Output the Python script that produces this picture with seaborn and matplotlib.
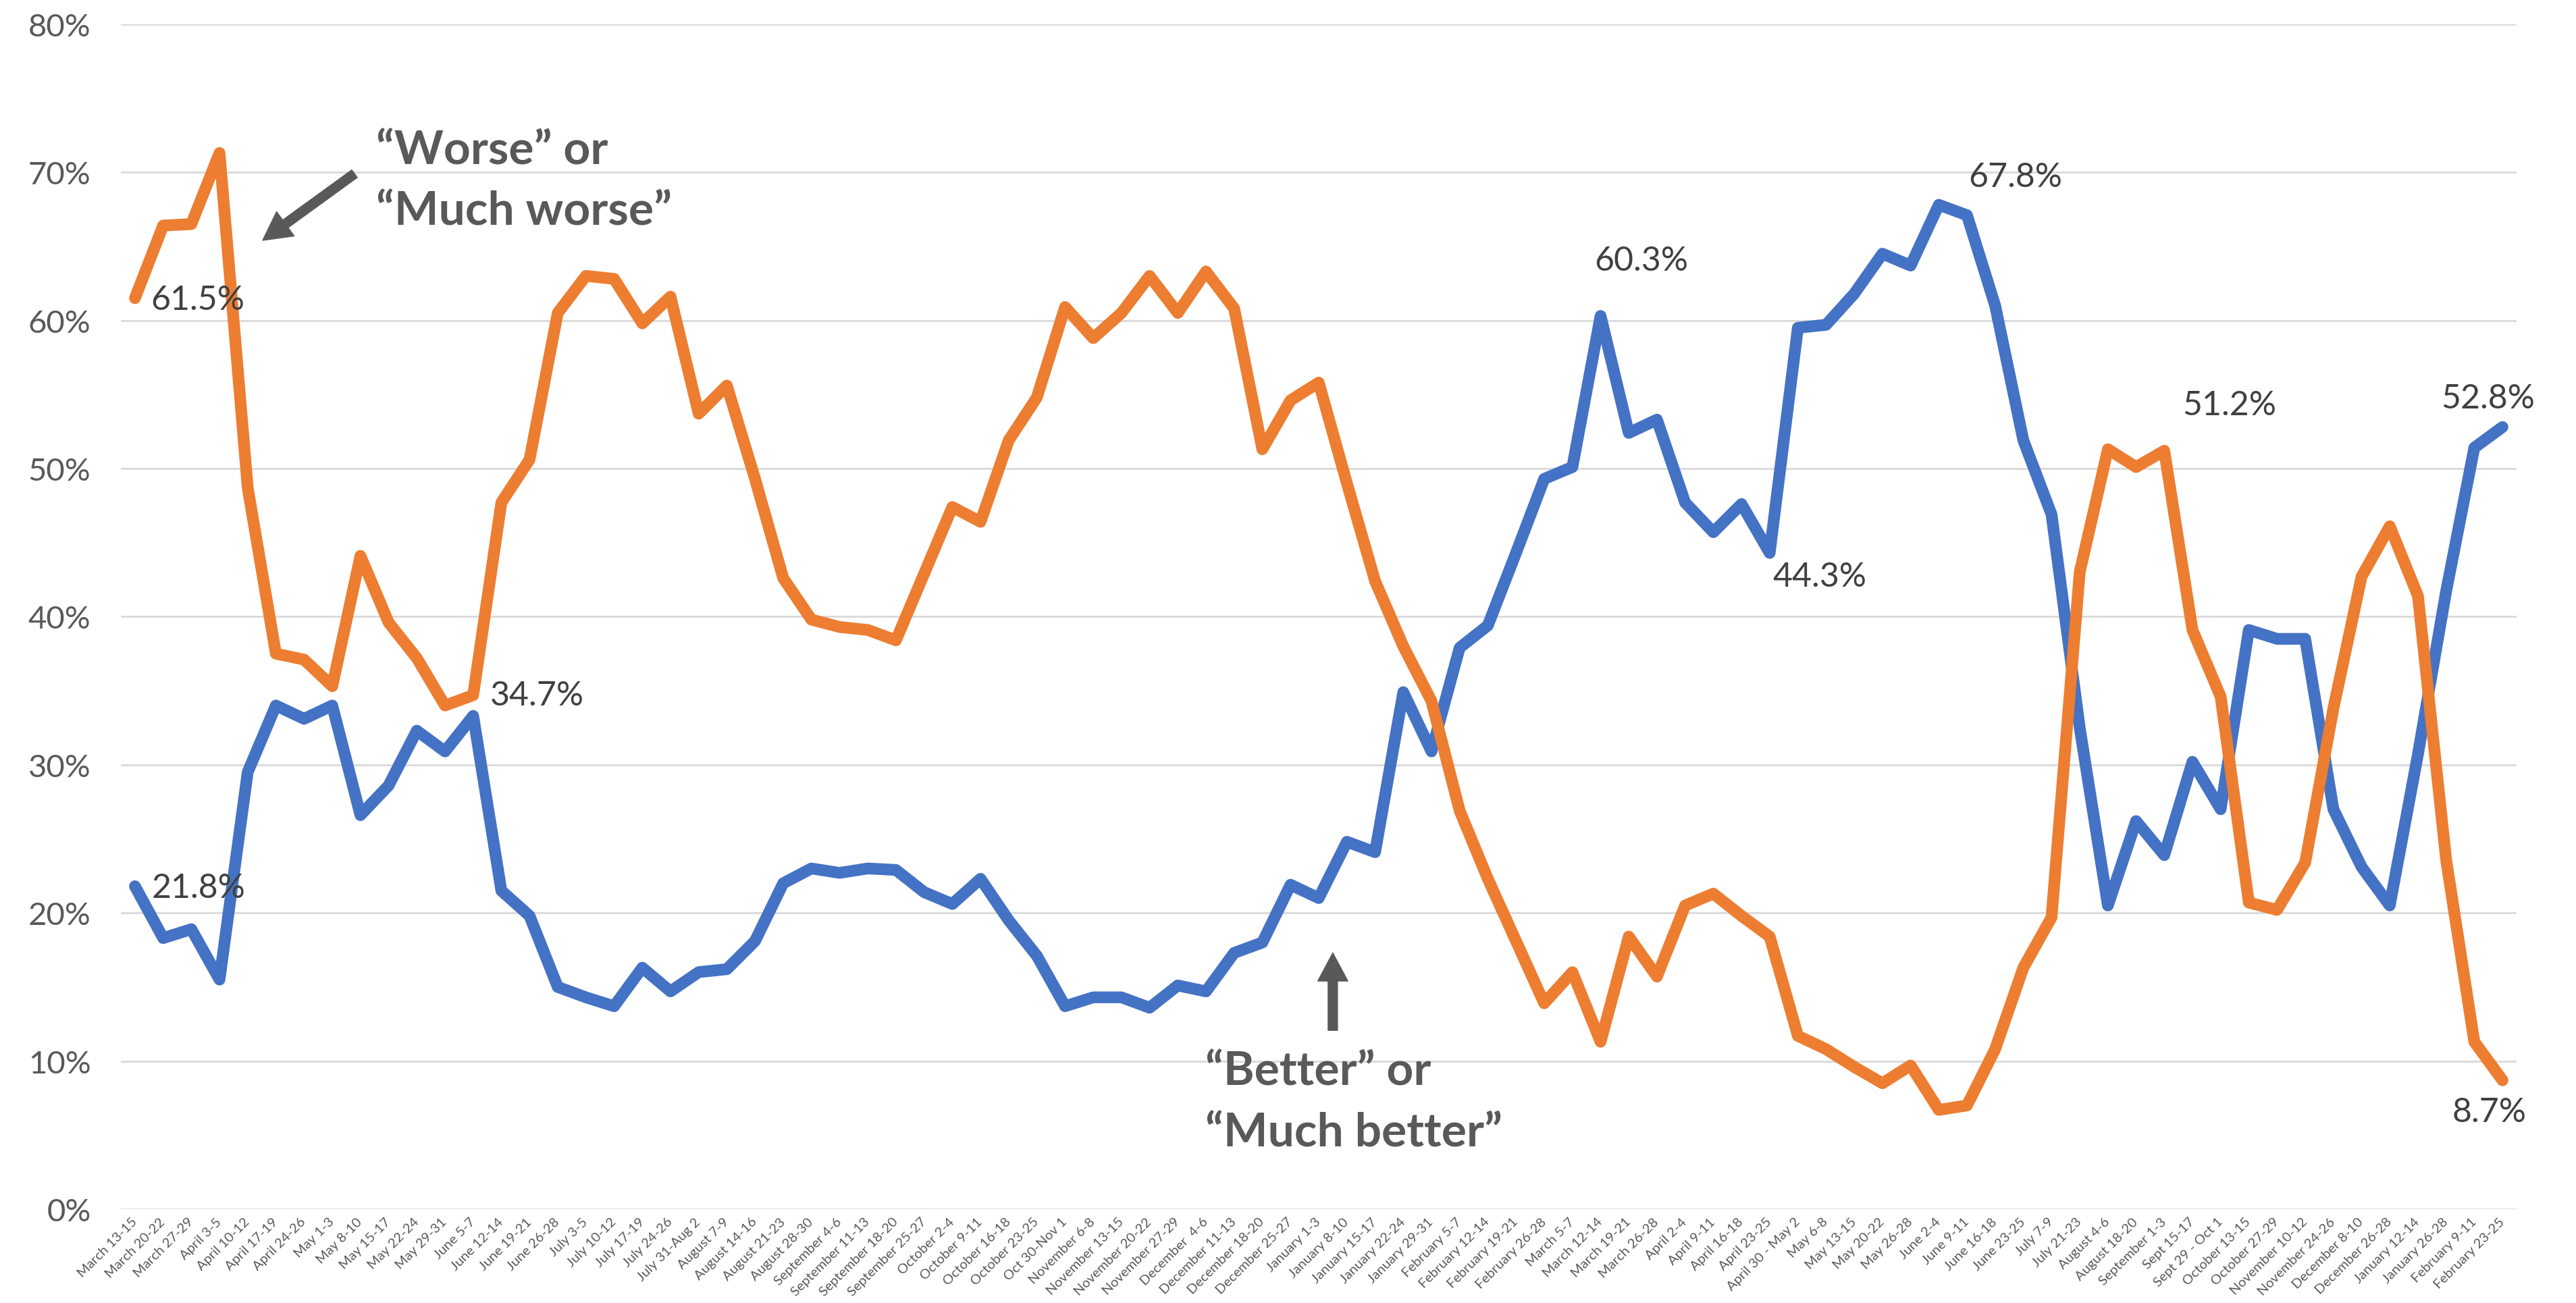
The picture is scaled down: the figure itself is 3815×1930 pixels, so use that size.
import matplotlib
matplotlib.use("Agg")
import matplotlib.pyplot as plt
import seaborn as sns
import pandas as pd

# Weekly survey waves
weeks = [
    "March 13-15", "March 20-22", "March 27-29", "April 3-5", "April 10-12",
    "April 17-19", "April 24-26", "May 1-3", "May 8-10", "May 15-17",
    "May 22-24", "May 29-31", "June 5-7", "June 12-14", "June 19-21",
    "June 26-28", "July 3-5", "July 10-12", "July 17-19", "July 24-26",
    "July 31-Aug 2", "August 7-9", "August 14-16", "August 21-23", "August 28-30",
    "September 4-6", "September 11-13", "September 18-20", "September 25-27",
    "October 2-4", "October 9-11", "October 16-18", "October 23-25",
    "Oct 30-Nov 1", "November 6-8", "November 13-15", "November 20-22",
    "November 27-29", "December  4-6", "December 11-13", "December 18-20",
    "December 25-27", "January 1-3", "January 8-10", "January 15-17",
    "January 22-24", "January 29-31", "February 5-7", "February 12-14",
    "February 19-21", "February 26-28", "March 5-7", "March 12-14",
    "March 19-21", "March 26-28", "April 2-4", "April 9-11", "April 16-18",
    "April 23-25", "April 30 - May 2", "May 6-8", "May 13-15", "May 20-22",
    "May 26-28", "June 2-4", "June 9-11", "June 16-18", "June 23-25",
    "July 7-9", "July 21-23", "August 4-6", "August 18-20", "September 1-3",
    "Sept 15-17", "Sept 29 - Oct 1", "October 13-15", "October 27-29",
    "November 10-12", "November 24-26", "December 8-10", "December 26-28",
    "January 12-14", "January 26-28", "February 9-11", "February 23-25",
]

# Share answering "Better" or "Much better" (%)
better = [
    21.8, 18.3, 18.9, 15.5, 29.5, 34.0, 33.1, 34.0, 26.6, 28.6,
    32.3, 30.9, 33.3, 21.5, 19.8, 15.0, 14.3, 13.7, 16.3, 14.7,
    16.0, 16.2, 18.1, 22.0, 23.0, 22.7, 23.0, 22.9, 21.4, 20.6,
    22.3, 19.5, 17.1, 13.7, 14.3, 14.3, 13.6, 15.1, 14.7, 17.3,
    18.0, 21.9, 21.0, 24.8, 24.1, 34.9, 30.9, 37.9, 39.4, 44.3,
    49.3, 50.1, 60.3, 52.4, 53.3, 47.7, 45.7, 47.6, 44.3, 59.5,
    59.7, 61.8, 64.5, 63.7, 67.8, 67.1, 61.0, 51.9, 46.9, 32.5,
    20.5, 26.2, 23.9, 30.2, 27.0, 39.1, 38.5, 38.5, 27.0, 23.1,
    20.5, 30.7, 41.7, 51.4, 52.8,
]

# Share answering "Worse" or "Much worse" (%)
worse = [
    61.5, 66.4, 66.5, 71.3, 48.7, 37.5, 37.1, 35.3, 44.1, 39.6,
    37.2, 34.0, 34.7, 47.7, 50.6, 60.5, 63.0, 62.8, 59.8, 61.6,
    53.7, 55.6, 49.3, 42.6, 39.8, 39.3, 39.1, 38.4, 42.9, 47.4,
    46.4, 51.9, 54.8, 60.9, 58.8, 60.5, 63.0, 60.5, 63.3, 60.8,
    51.3, 54.6, 55.8, 49.0, 42.4, 38.0, 34.3, 26.9, 22.3, 18.1,
    13.9, 16.0, 11.3, 18.4, 15.7, 20.5, 21.3, 19.8, 18.4, 11.7,
    10.8, 9.6, 8.5, 9.7, 6.7, 7.0, 10.8, 16.3, 19.7, 43.0,
    51.3, 50.1, 51.2, 39.1, 34.6, 20.7, 20.2, 23.4, 33.8, 42.7,
    46.1, 41.4, 23.6, 11.3, 8.7,
]

y_ticks = [0, 10, 20, 30, 40, 50, 60, 70, 80]
y_tick_labels = [f"{v}%" for v in y_ticks]

n = len(weeks)
df = pd.DataFrame({
    "pos": list(range(n)) * 2,
    "share": better + worse,
    "series": ["Better"] * n + ["Worse"] * n,
})

sns.set_theme(style="white")
plt.rcParams["font.family"] = ["Lato", "DejaVu Sans"]

W, H = 3815, 1931
fig = plt.figure(figsize=(W / 100, H / 100), dpi=100)
fig.patch.set_facecolor("white")
left, right, top, bottom = 179, 3727, 36.7, 1792
ax = fig.add_axes([left / W, 1 - bottom / H, (right - left) / W, (bottom - top) / H])

blue = "#4472C4"
orange = "#ED7D31"
text_grey = "#595959"
label_grey = "#404040"

sns.lineplot(
    data=df, x="pos", y="share", hue="series",
    hue_order=["Better", "Worse"],
    palette={"Better": blue, "Worse": orange},
    linewidth=12.5, legend=False, errorbar=None, sort=False, ax=ax,
    solid_capstyle="round", solid_joinstyle="round",
)

ax.set_xlim(-0.5, n - 0.5)
ax.set_ylim(0, 80)
ax.set_xlabel("")
ax.set_ylabel("")
for s in ax.spines.values():
    s.set_visible(False)

ax.set_yticks(y_ticks)
ax.set_yticklabels(y_tick_labels)
ax.yaxis.grid(True, color="#D9D9D9", linewidth=2)
ax.xaxis.grid(False)
ax.set_axisbelow(True)
ax.tick_params(axis="y", length=0, pad=32, labelsize=34, labelcolor=text_grey)

ax.set_xticks(range(n))
ax.set_xticklabels(weeks, rotation=45, ha="right", va="center",
                   rotation_mode="anchor", fontsize=14.5, color=text_grey)
ax.tick_params(axis="x", length=0, pad=11)


def value_label(k, series, dx, dy, ha="left"):
    v = series[k]
    ax.annotate(f"{v}%", xy=(k, v), xytext=(dx, dy), textcoords="offset pixels",
                ha=ha, va="center", fontsize=36, color=label_grey,
                annotation_clip=False)


value_label(0, worse, 23, -2)
value_label(0, better, 25, -2)
value_label(12, worse, 25, 0)
value_label(52, better, 60, 82, ha="center")
value_label(58, better, 74, -35, ha="center")
value_label(64, better, 44, 41)
value_label(72, worse, 27, 68)
value_label(84, better, -21, 43, ha="center")
value_label(84, worse, -20, -47, ha="center")

# Callouts naming each series
callout = dict(fontsize=50, fontweight="bold", color=text_grey, ha="left", va="baseline")
ax.text(8.55, 70.57, "“Worse” or", **callout)
ax.text(8.55, 66.47, "“Much worse”", **callout)
ax.text(37.97, 8.43, "“Better” or", **callout)
ax.text(37.97, 4.24, "“Much better”", **callout)

arrow = dict(arrowstyle="simple,head_length=30,head_width=32,tail_width=10",
             mutation_scale=1, color=text_grey, shrinkA=0, shrinkB=0)
ax.annotate("", xy=(4.53, 65.4), xytext=(7.79, 69.9), arrowprops=arrow)
ax.annotate("", xy=(42.5, 17.3), xytext=(42.5, 12.07), arrowprops=arrow)

fig.savefig("out.png", dpi=100, facecolor="white")
